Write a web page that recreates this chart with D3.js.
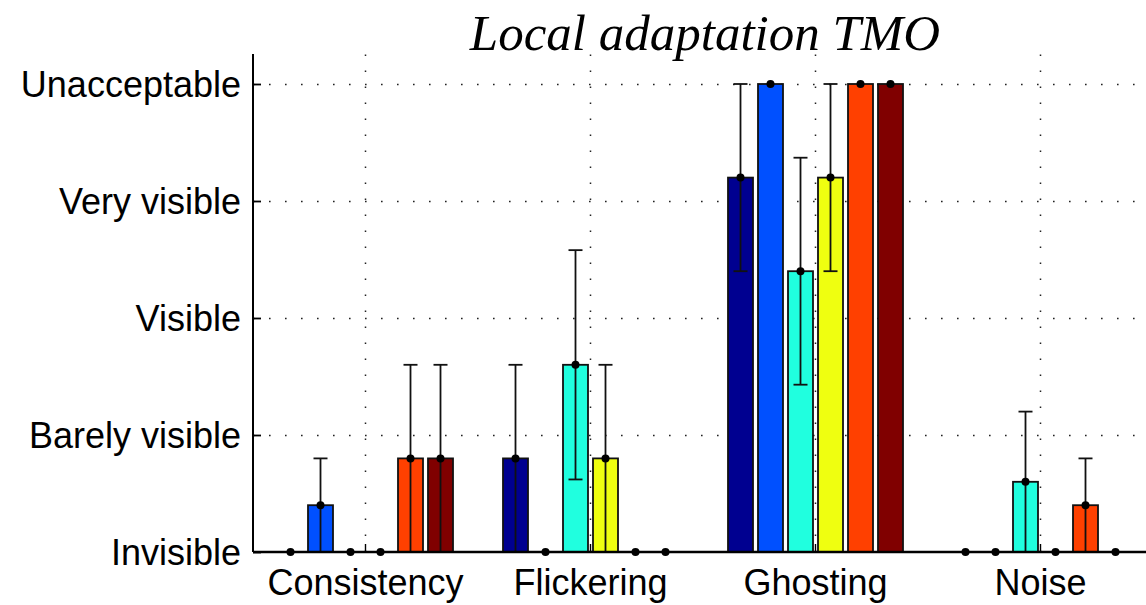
<!DOCTYPE html>
<html>
<head>
<meta charset="utf-8">
<script src="https://cdn.jsdelivr.net/npm/d3@7"></script>
<style>
  body { margin: 0; background: #fff; }
  svg { display: block; }
  .tick-label { font-family: "Liberation Sans", Arial, sans-serif; font-size: 36px; fill: #000; }
  .chart-title { font-family: "Liberation Serif", "Times New Roman", serif; font-style: italic; font-size: 51px; fill: #000; }
  .grid line { stroke: #222; stroke-width: 1.5; stroke-dasharray: 1.6,14.4; }
</style>
</head>
<body>
<div id="hook"></div>
<script>
var categories = ["Consistency", "Flickering", "Ghosting", "Noise"];
var levels     = ["Invisible", "Barely visible", "Visible", "Very visible", "Unacceptable"];
var colors     = ["#000090", "#0050ff", "#20ffdf", "#efff10", "#ff4000", "#800000"];

// mean rating per series, one value per category
var s1 = [0.0, 0.8, 3.2, 0.0];
var s2 = [0.4, 0.0, 4.0, 0.0];
var s3 = [0.0, 1.6, 2.4, 0.6];
var s4 = [0.0, 0.8, 3.2, 0.0];
var s5 = [0.8, 0.0, 4.0, 0.4];
var s6 = [0.8, 0.0, 4.0, 0.0];

// error bar half-widths
var e1 = [0.0, 0.8, 0.8, 0.0];
var e2 = [0.4, 0.0, 0.0, 0.0];
var e3 = [0.0, 0.98, 0.97, 0.6];
var e4 = [0.0, 0.8, 0.8, 0.0];
var e5 = [0.8, 0.0, 0.0, 0.4];
var e6 = [0.8, 0.0, 0.0, 0.0];

var means  = [s1, s2, s3, s4, s5, s6];
var errors = [e1, e2, e3, e4, e5, e6];

var margin = {top: 54, right: 0, bottom: 53, left: 253};
var W = 1146, H = 605;
var width  = 900;               // axis runs past the right edge, as in the picture
var height = H - margin.top - margin.bottom;   // 498

var x  = d3.scaleBand().domain(categories).range([0, width]);
var xs = d3.scaleBand().domain(d3.range(6)).range([-90, 90]).paddingInner(1/6).paddingOuter(1/12);
var y  = d3.scaleLinear().domain([0, 4]).range([height, 30]);

var data = [];
means.forEach(function(ser, i) {
  ser.forEach(function(v, j) {
    data.push({series: i, cat: categories[j], value: v, err: errors[i][j]});
  });
});

var svg = d3.select("#hook").append("svg").attr("width", W).attr("height", H);

var graph = svg.append("g").attr("transform", "translate(" + margin.left + "," + margin.top + ")");

var cx = function(d) { return x(d.cat) + x.bandwidth() / 2 + xs(d.series) + xs.bandwidth() / 2; };

// dotted grid
var grid_y = d3.axisLeft(y).tickValues([1, 2, 3, 4]).tickSizeInner(-width).tickSizeOuter(0).tickFormat("");
var grid_x = d3.axisBottom(x).tickSizeInner(-height).tickSizeOuter(0).tickFormat("");
graph.append("g").attr("class", "grid").call(grid_y).call(function(g) { g.select(".domain").remove(); });
graph.append("g").attr("class", "grid").attr("transform", "translate(0," + height + ")")
  .call(grid_x).call(function(g) { g.select(".domain").remove(); });

// bars
graph.append("g").selectAll("rect")
  .data(data.filter(function(d) { return d.value > 0; }))
  .join("rect")
  .attr("x", function(d) { return cx(d) - xs.bandwidth() / 2; })
  .attr("width", xs.bandwidth())
  .attr("y", function(d) { return y(d.value); })
  .attr("height", function(d) { return y(0) - y(d.value); })
  .attr("fill", function(d) { return colors[d.series]; })
  .attr("stroke", "#111")
  .attr("stroke-width", 1.8);

// error bars
var eb = graph.append("g").selectAll("g")
  .data(data.filter(function(d) { return d.err > 0; }))
  .join("g")
  .attr("stroke", "#111").attr("stroke-width", 1.8);
eb.append("line")
  .attr("x1", cx).attr("x2", cx)
  .attr("y1", function(d) { return y(Math.max(0, d.value - d.err)); })
  .attr("y2", function(d) { return y(d.value + d.err); });
eb.append("line")
  .attr("x1", function(d) { return cx(d) - 7; }).attr("x2", function(d) { return cx(d) + 7; })
  .attr("y1", function(d) { return y(d.value + d.err); })
  .attr("y2", function(d) { return y(d.value + d.err); });
eb.filter(function(d) { return d.value - d.err > 0.01; }).append("line")
  .attr("x1", function(d) { return cx(d) - 7; }).attr("x2", function(d) { return cx(d) + 7; })
  .attr("y1", function(d) { return y(d.value - d.err); })
  .attr("y2", function(d) { return y(d.value - d.err); });

// axes
var axis_y = d3.axisLeft(y).tickValues([0, 1, 2, 3, 4]).tickSizeInner(-8).tickSizeOuter(0).tickPadding(12)
  .tickFormat(function(d) { return levels[d]; });
var axis_x = d3.axisBottom(x).tickSizeInner(-8).tickSizeOuter(0).tickPadding(16);

var ay = graph.append("g").call(axis_y);
ay.select(".domain").remove();
ay.selectAll(".tick line").attr("stroke", "#000").attr("stroke-width", 1.8);
ay.selectAll("text").attr("class", "tick-label").attr("font-size", null).attr("font-family", null)
  .attr("dy", "0.35em").attr("x", -12);

var ax = graph.append("g").attr("transform", "translate(0," + height + ")").call(axis_x);
ax.select(".domain").remove();
ax.selectAll(".tick line").attr("stroke", "#000").attr("stroke-width", 1.4);
ax.selectAll("text").attr("class", "tick-label").attr("font-size", null).attr("font-family", null)
  .attr("dy", "0.98em").attr("y", 8);

graph.append("line").attr("x1", 0).attr("x2", 0).attr("y1", 0).attr("y2", height)
  .attr("stroke", "#000").attr("stroke-width", 2);
graph.append("line").attr("x1", 0).attr("x2", width).attr("y1", height).attr("y2", height)
  .attr("stroke", "#000").attr("stroke-width", 2.4);

// mean markers
graph.append("g").selectAll("circle")
  .data(data)
  .join("circle")
  .attr("cx", cx)
  .attr("cy", function(d) { return y(d.value); })
  .attr("r", 4)
  .attr("fill", "#000");

svg.append("text")
  .attr("class", "chart-title")
  .attr("x", margin.left + width / 2 + 2)
  .attr("y", 50)
  .attr("text-anchor", "middle")
  .text("Local adaptation TMO");
</script>
</body>
</html>
